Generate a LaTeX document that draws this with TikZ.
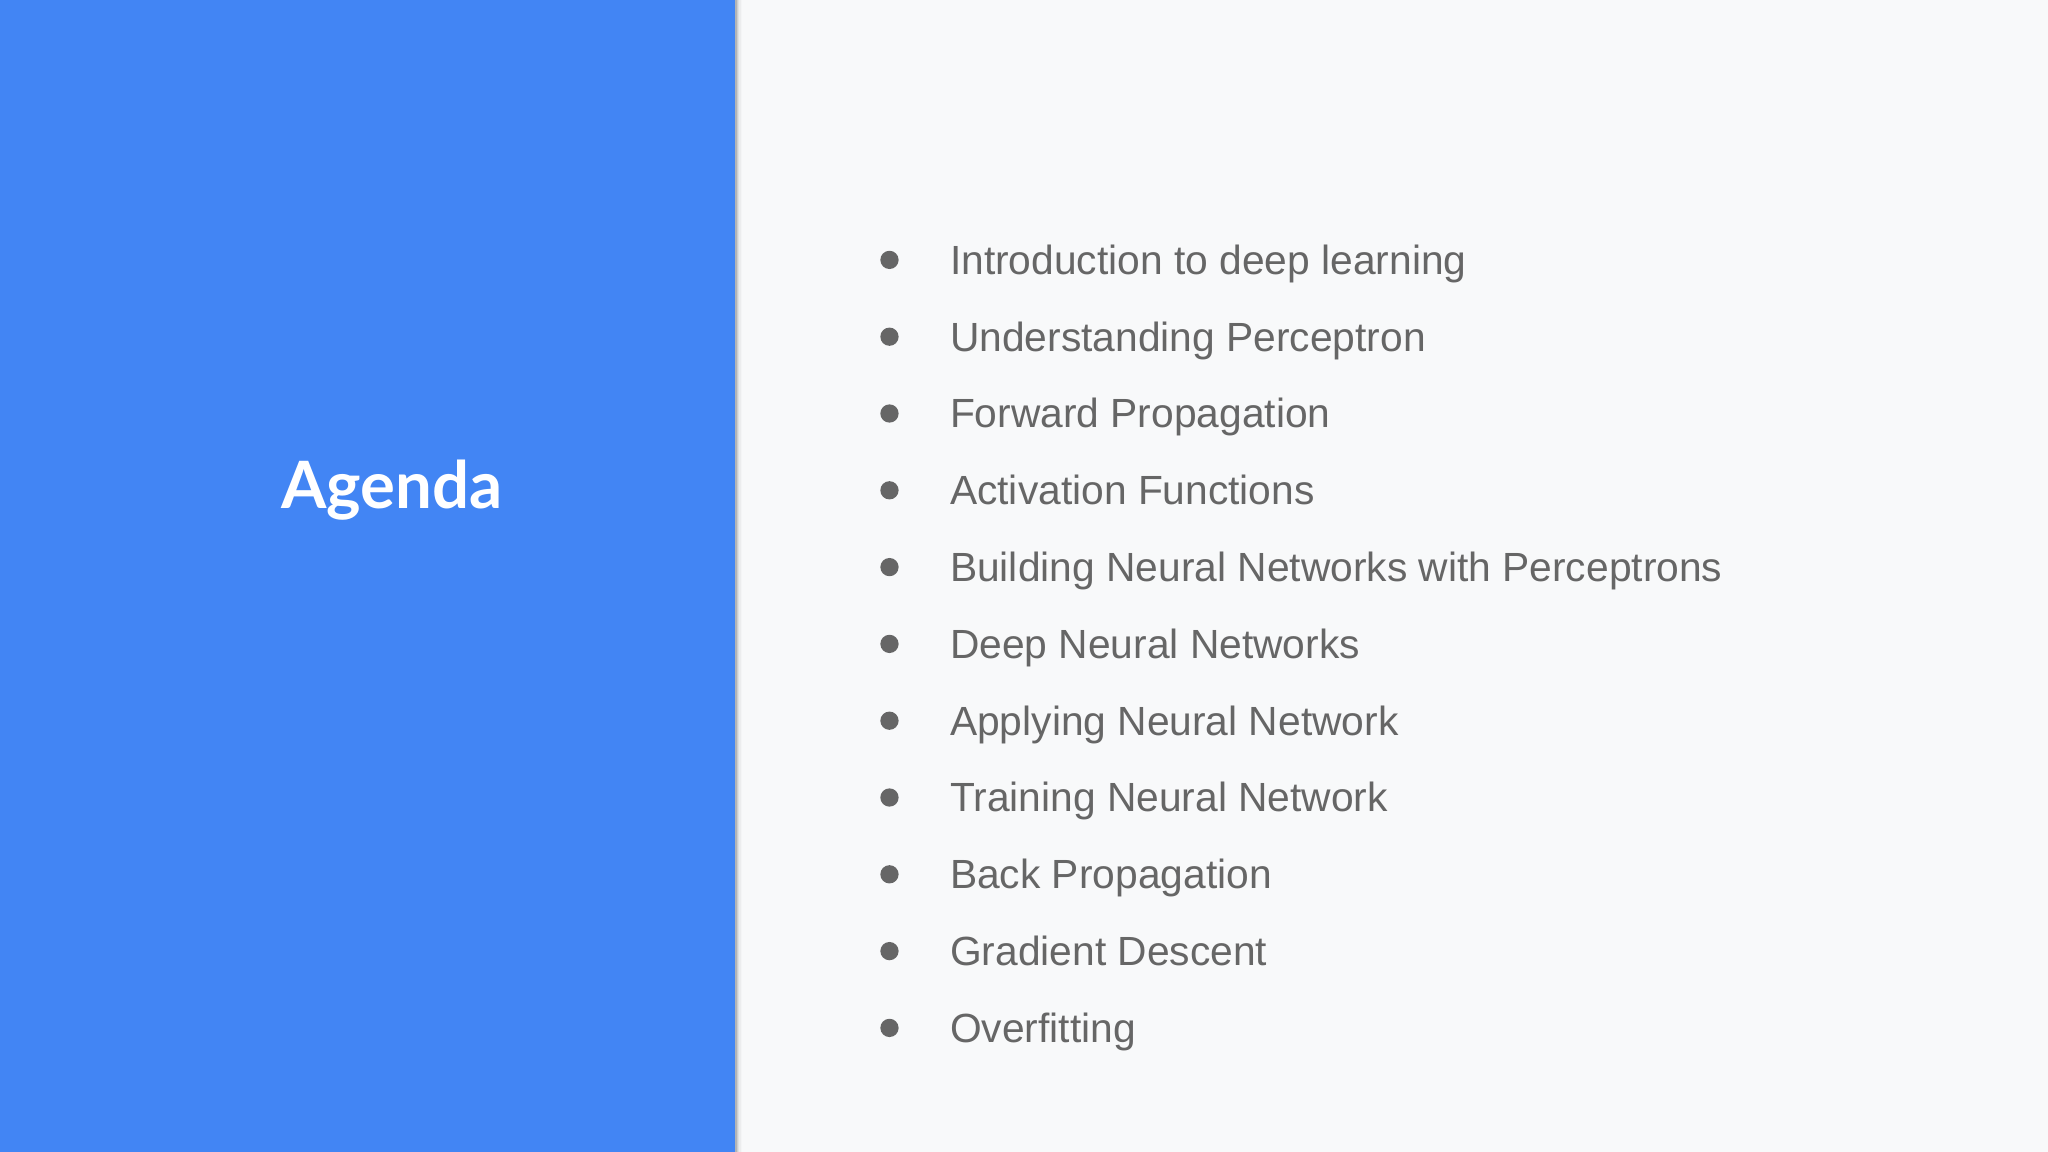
\documentclass[tikz,border=0pt]{standalone}
\usepackage{fontspec}
\setmainfont{Liberation Sans}
\newfontfamily\titlefont{Lato}
\definecolor{panelblue}{HTML}{4285F4}
\definecolor{bgcol}{HTML}{F8F9FA}
\definecolor{itemgrey}{HTML}{666666}
\begin{document}
\begin{tikzpicture}[x=0.5pt,y=0.5pt,
  item/.style={anchor=base west,text=itemgrey,font=\fontsize{15.6pt}{18pt}\selectfont,inner sep=0},
  bul/.style={fill=itemgrey,circle,inner sep=0,minimum size=7pt}]
\useasboundingbox (0,0) rectangle (1568,882);
\fill[bgcol] (0,0) rectangle (1568,882);
\foreach \i/\o in {1/0.12,2/0.08,3/0.05,4/0.03,5/0.015}
  \fill[black,opacity=\o] (563,0) rectangle (563+\i,882);
\fill[panelblue] (0,0) rectangle (563,882);
\node[text=white,font=\titlefont\bfseries\fontsize{25pt}{30pt}\selectfont] (title) at (300,507) {Agenda};
\foreach \t [count=\k] in {Introduction to deep learning,Understanding Perceptron,Forward Propagation,Activation Functions,Building Neural Networks with Perceptrons,Deep Neural Networks,Applying Neural Network,Training Neural Network,Back Propagation,Gradient Descent,Overfitting}{
  \node[bul] (b\k) at (681,{882-199-(\k-1)*58.8}) {};
  \node[item] (t\k) at (727,{882-210-(\k-1)*58.8}) {\t};
}
\end{tikzpicture}
\end{document}
